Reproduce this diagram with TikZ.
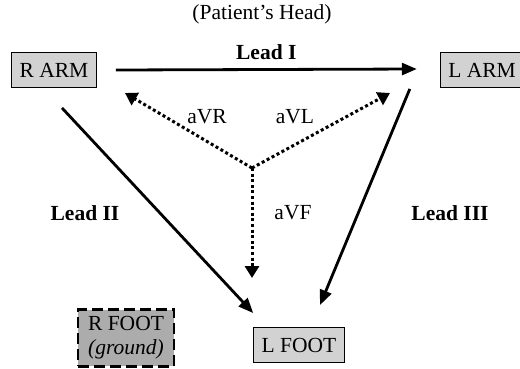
\documentclass[tikz,border=0pt]{standalone}
\usepackage{fontspec}
\setmainfont{Liberation Serif}
\usetikzlibrary{arrows.meta}
\begin{document}
\begin{tikzpicture}[x=1pt,y=-1pt,
  every node/.style = {font=\fontsize{21.5}{24}\selectfont},
  limb/.style = {draw, line width=0.9pt, fill=gray!35,
    inner xsep=8pt, minimum height=35pt},
  ground/.style = {draw, line width=2.8pt, dash pattern=on 11pt off 5pt,
    fill=gray!65, align=center, inner xsep=10pt, inner ysep=7pt},
  lead/.style = {line width=2.8pt, -{Triangle[length=15pt,width=12pt]}},
  aug/.style = {line width=3pt, dash pattern=on 3pt off 2.6pt,
    -{Triangle[length=12pt,width=14pt]}}]
\useasboundingbox (0,0) rectangle (520,368);
\node at (262,14) {(Patient's Head)};
\node (rarm) at (54,70) [limb] {R ARM};
\node (larm) at (482,70) [limb] {L ARM};
\node (lfoot) at (299,345) [limb] {L FOOT};
\node (rfoot) at (126,338) [ground] {R FOOT\\\textit{(ground)}};
% limb leads
\draw[lead] ([shift={(19,0)}]rarm.east) -- ([shift={(-23,-1)}]larm.west)
  node[midway,above=5pt,font=\fontsize{21.5}{24}\selectfont\bfseries] {Lead I};
\draw[lead] ([shift={(8,20)}]rarm.south) -- ([shift={(0,-14)}]lfoot.north west);
\draw[lead] ([shift={(-30,1)}]larm.south west) -- ([shift={(21,-22)}]lfoot.north);
\node at (85,213) {\textbf{Lead II}};
\node at (450,213) {\textbf{Lead III}};
% augmented leads
\coordinate (ctr) at (252,168);
\coordinate (vr) at (125,93);
\coordinate (vl) at (390,93);
\coordinate (vf) at (252,278);
\draw[aug] (ctr) -- (vr);
\draw[aug] (ctr) -- (vl);
\draw[aug] (ctr) -- (vf);
\node at (207,117) {aVR};
\node at (295,117) {aVL};
\node at (293,213) {aVF};
\end{tikzpicture}
\end{document}
